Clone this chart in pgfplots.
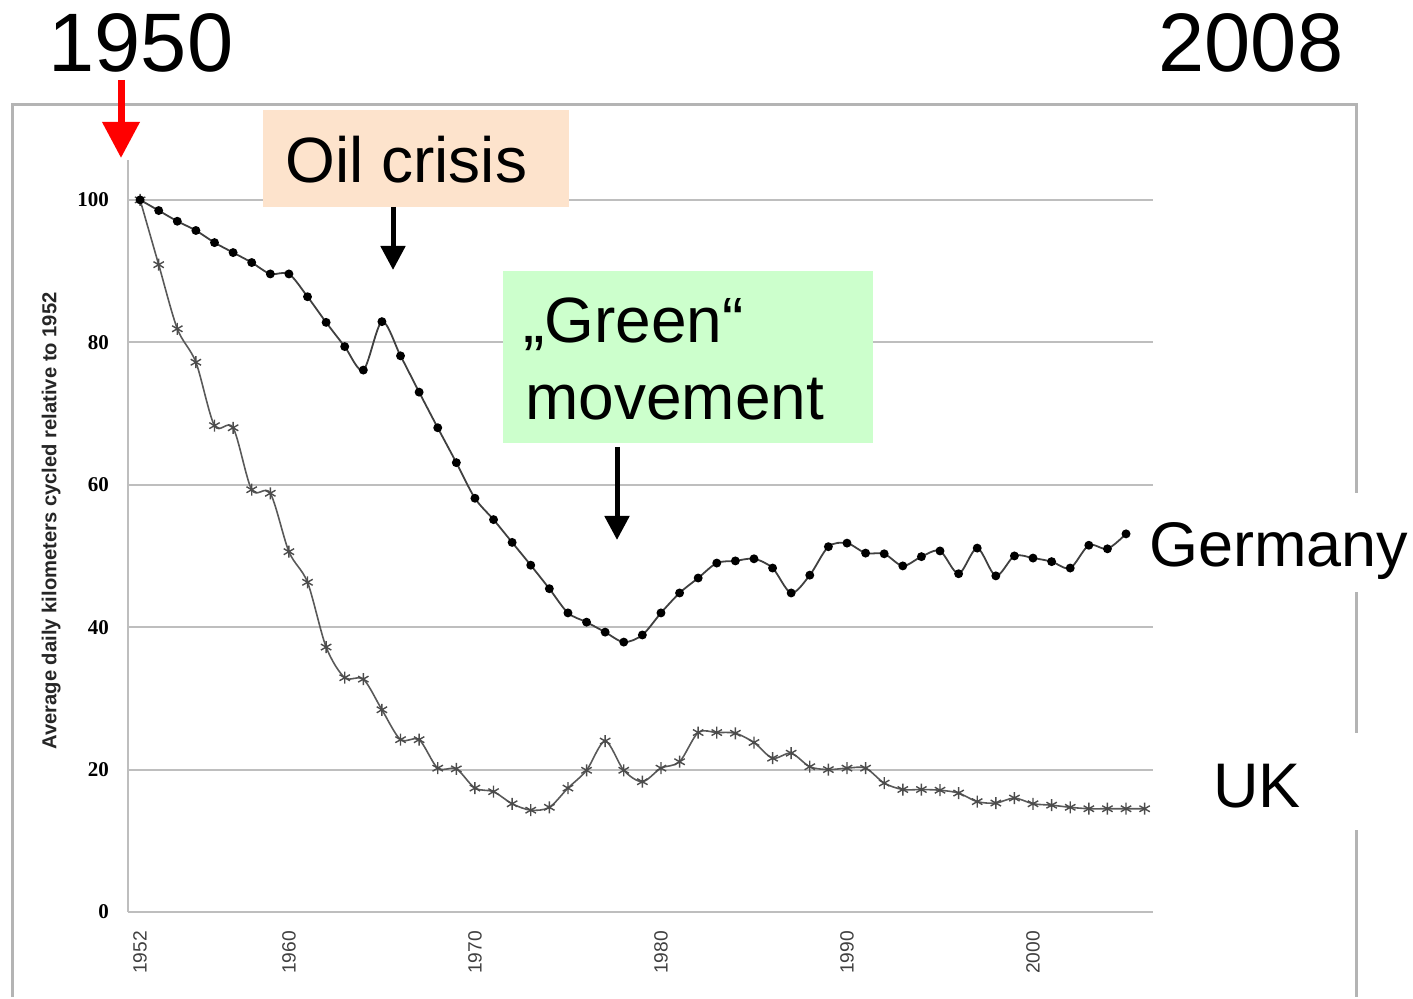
\documentclass[border=0pt]{standalone}
\usepackage{pgfplots}
\pgfplotsset{compat=1.18}
\usepackage{fontspec}
\setmainfont{Liberation Sans}
\newfontfamily\tnr{Liberation Serif}
\usetikzlibrary{arrows.meta}
\definecolor{peach}{HTML}{FDE3CC}
\definecolor{mint}{HTML}{CCFFCC}
\definecolor{gridgray}{HTML}{BEBEBE}
\definecolor{framegray}{HTML}{B4B4B4}

\pgfplotstableread{
year val
1952 100
1953 98.5
1954 97
1955 95.7
1956 94
1957 92.6
1958 91.2
1959 89.6
1960 89.6
1961 86.4
1962 82.8
1963 79.4
1964 76.1
1965 82.9
1966 78.1
1967 73.0
1968 68.0
1969 63.1
1970 58.1
1971 55.1
1972 51.9
1973 48.7
1974 45.4
1975 42.0
1976 40.7
1977 39.3
1978 37.9
1979 38.9
1980 42.0
1981 44.8
1982 46.9
1983 49.0
1984 49.3
1985 49.6
1986 48.3
1987 44.8
1988 47.3
1989 51.3
1990 51.8
1991 50.4
1992 50.3
1993 48.6
1994 49.9
1995 50.7
1996 47.5
1997 51.1
1998 47.2
1999 50.0
2000 49.7
2001 49.2
2002 48.3
2003 51.5
2004 51.0
2005 53.1
}\germany

\pgfplotstableread{
year val
1952 100
1953 90.9
1954 81.9
1955 77.2
1956 68.3
1957 68.0
1958 59.3
1959 58.8
1960 50.6
1961 46.3
1962 37.2
1963 32.9
1964 32.7
1965 28.4
1966 24.2
1967 24.2
1968 20.2
1969 20.1
1970 17.4
1971 16.9
1972 15.2
1973 14.3
1974 14.7
1975 17.4
1976 19.9
1977 24.0
1978 19.9
1979 18.3
1980 20.2
1981 21.1
1982 25.2
1983 25.2
1984 25.1
1985 23.8
1986 21.6
1987 22.3
1988 20.4
1989 20.0
1990 20.2
1991 20.2
1992 18.1
1993 17.2
1994 17.2
1995 17.1
1996 16.7
1997 15.5
1998 15.3
1999 16.0
2000 15.2
2001 15.0
2002 14.7
2003 14.5
2004 14.5
2005 14.5
2006 14.5
}\uk

\begin{document}
\begin{tikzpicture}
% page extent: 1413 x 997 px, 1px = 0.5pt
\path (0,0) rectangle (706.5pt,-498.5pt);

% outer frame of the embedded chart
\begin{scope}[x=0.5pt,y=-0.5pt]
\draw[framegray, line width=1.5pt] (12,997) -- (12,105) -- (1356,105) -- (1356,997);
\end{scope}

\begin{axis}[
  at={(64pt,-456pt)}, anchor=south west,
  scale only axis,
  width=512.5pt, height=376pt,
  xmin=1951.35, xmax=2006.45,
  ymin=0, ymax=105.6,
  axis x line*=bottom, axis y line*=left,
  axis line style={gridgray, line width=1pt, -},
  xtick={1952,1960,1970,1980,1990,2000},
  xticklabels={1952,1960,1970,1980,1990,2000},
  ytick={0,20,40,60,80,100},
  ymajorgrids,
  grid style={gridgray, line width=1pt},
  major tick length=0pt,
  /pgf/number format/assume math mode=true,
  xticklabel style={rotate=90, anchor=east, font=\fontsize{9.6}{10}\selectfont, text=black!75, xshift=-6pt},
  yticklabel style={font=\tnr\bfseries\fontsize{10.5}{11}\selectfont, xshift=-6pt},
  ylabel={Average daily kilometers cycled relative to 1952},
  ylabel style={at={(axis description cs:-0.075,0.52)}, anchor=center, font=\fontsize{10.1}{11}\selectfont\bfseries, text=black!85},
  clip=false,
]
\addplot[smooth, tension=0.5, color=black!65, line width=0.8pt,
  mark=asterisk, mark size=3pt, mark options={black!70, line width=0.7pt}] table[x=year,y=val] {\uk};
\addplot[smooth, tension=0.5, color=black!75, line width=0.9pt,
  mark=*, mark size=1.75pt, mark options={black, fill=black}] table[x=year,y=val] {\germany};
\end{axis}

\begin{scope}[x=0.5pt,y=-0.5pt]
% big year labels
\node[anchor=base, font=\fontsize{41.5}{42}\selectfont, inner sep=0pt] at (141,72) {1950};
\node[anchor=base, font=\fontsize{41.5}{42}\selectfont, inner sep=0pt] at (1251,72) {2008};
% red arrow
\draw[red, line width=3.5pt, -{Triangle[width=18pt,length=18pt]}] (121,80) -- (121,158);
% oil crisis box
\fill[peach] (263,110) rectangle (569,207);
\node[anchor=base west, font=\fontsize{32}{32}\selectfont, inner sep=0pt] at (285,183) {Oil crisis};
\draw[black, line width=2.5pt, -{Triangle[width=12pt,length=12pt]}] (393,207) -- (393,270);
% green movement box
\fill[mint] (503,271) rectangle (873,443);
\node[anchor=base west, font=\fontsize{32}{32}\selectfont, inner sep=0pt] at (523,343) {„Green“};
\node[anchor=base west, font=\fontsize{32}{32}\selectfont, inner sep=0pt] at (525,420) {movement};
\draw[black, line width=2.5pt, -{Triangle[width=12pt,length=12pt]}] (617,447) -- (617,540);
% series labels with white background over the frame
\fill[white] (1135,493) rectangle (1413,592);
\node[anchor=base west, font=\fontsize{31.5}{32}\selectfont, inner sep=0pt] at (1149,567) {Germany};
\fill[white] (1200,733) rectangle (1413,830);
\node[anchor=base west, font=\fontsize{31.5}{32}\selectfont, inner sep=0pt] at (1213,807) {UK};
\end{scope}
\end{tikzpicture}
\end{document}
